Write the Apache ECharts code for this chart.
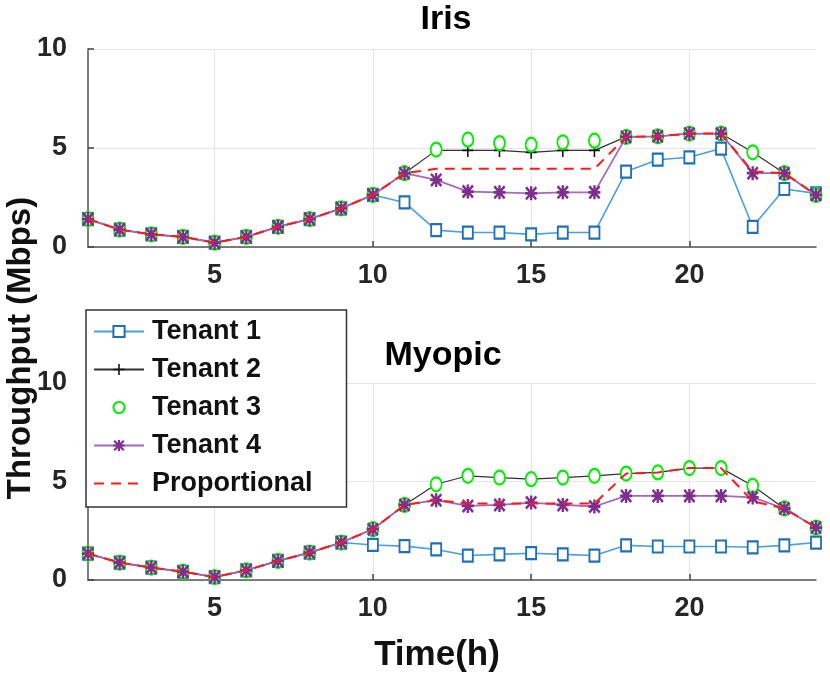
<!DOCTYPE html>
<html>
<head>
<meta charset="utf-8">
<script src="https://cdn.jsdelivr.net/npm/echarts@6/dist/echarts.min.js"></script>
<style>
html,body{margin:0;padding:0;background:#fff;}
#chart{width:830px;height:679px;}
</style>
</head>
<body>
<div id="chart"></div>
<script>
// ---- data ----
const hours = [1,2,3,4,5,6,7,8,9,10,11,12,13,14,15,16,17,18,19,20,21,22,23,24];
const xTicks = [5,10,15,20];
const yTicks = [0,5,10];
const seriesNames = ['Tenant 1','Tenant 2','Tenant 3','Tenant 4','Proportional'];
const panelTitles = ['Iris','Myopic'];

const irisT1   = [1.41,0.88,0.64,0.51,0.22,0.51,1.02,1.41,1.95,2.63,2.25,0.85,0.73,0.73,0.64,0.73,0.73,3.81,4.41,4.53,4.97,1.02,2.93,2.71];
const irisT2   = [1.41,0.88,0.64,0.51,0.22,0.51,1.02,1.41,1.95,2.63,3.73,4.88,4.88,4.88,4.78,4.88,4.88,5.56,5.59,5.73,5.73,4.78,3.73,2.63];
const irisT3   = [1.41,0.88,0.64,0.51,0.22,0.51,1.02,1.41,1.95,2.63,3.73,4.92,5.42,5.25,5.17,5.29,5.37,5.56,5.59,5.73,5.73,4.78,3.73,2.63];
const irisT4   = [1.41,0.88,0.64,0.51,0.22,0.51,1.02,1.41,1.95,2.63,3.73,3.39,2.80,2.76,2.71,2.76,2.76,5.56,5.59,5.73,5.73,3.73,3.73,2.63];
const irisProp = [1.41,0.88,0.64,0.51,0.22,0.51,1.02,1.41,1.95,2.63,3.73,3.95,3.95,3.95,3.95,3.95,3.95,5.56,5.59,5.73,5.73,3.81,3.73,2.63];

const myoT1   = [1.34,0.88,0.63,0.42,0.15,0.49,0.97,1.39,1.90,1.78,1.72,1.55,1.24,1.30,1.36,1.30,1.24,1.76,1.70,1.70,1.70,1.66,1.76,1.90];
const myoT2   = [1.34,0.88,0.63,0.42,0.15,0.49,0.97,1.39,1.90,2.58,3.81,4.86,5.29,5.20,5.12,5.20,5.29,5.40,5.46,5.68,5.68,4.78,3.63,2.66];
const myoT3   = [1.34,0.88,0.63,0.42,0.15,0.49,0.97,1.39,1.90,2.58,3.81,4.86,5.29,5.20,5.12,5.20,5.29,5.40,5.46,5.68,5.68,4.78,3.63,2.66];
const myoT4   = [1.34,0.88,0.63,0.42,0.15,0.49,0.97,1.39,1.90,2.58,3.81,4.05,3.76,3.81,3.93,3.81,3.73,4.27,4.27,4.27,4.27,4.19,3.63,2.66];
const myoProp = [1.34,0.88,0.63,0.42,0.15,0.49,0.97,1.39,1.90,2.58,3.81,4.05,3.88,3.88,3.88,3.88,3.88,5.40,5.46,5.68,5.68,4.00,3.63,2.66];

// ---- styles ----
const FONT = '"Liberation Sans", Arial, Helvetica, sans-serif';
const PLUS = 'path://M4.3,0H5.7V10H4.3Z M0,4.3H10V5.7H0Z';
const STAR = 'path://M4,0H6V10H4Z M0,4H10V6H0Z M1.4,0L10,8.6L8.6,10L0,1.4Z M8.6,0L10,1.4L1.4,10L0,8.6Z';

function pairs(vals){ return hours.map((h,i)=>[h, vals[i]]); }

function panelSeries(idx, t1, t2, t3, t4, prop){
  return [
    { name: seriesNames[0], type:'line', xAxisIndex:idx, yAxisIndex:idx, data:pairs(t1),
      symbol:'emptyRect', symbolSize:[10,12], showAllSymbol:true,
      lineStyle:{color:'#4a9fdc', width:1.6},
      itemStyle:{color:'#1f70b8', borderWidth:1.6}, z:2, animation:false },
    { name: seriesNames[1], type:'line', xAxisIndex:idx, yAxisIndex:idx, data:pairs(t2),
      symbol:PLUS, symbolSize:[11,13], showAllSymbol:true,
      lineStyle:{color:'#333333', width:1.2},
      itemStyle:{color:'#111111', borderWidth:0}, z:3, animation:false },
    { name: seriesNames[2], type:'line', xAxisIndex:idx, yAxisIndex:idx, data:pairs(t3),
      symbol:'emptyCircle', symbolSize:[11,14], showAllSymbol:true,
      lineStyle:{width:0, opacity:0},
      itemStyle:{color:'#00ee00', borderWidth:1.8}, z:4, animation:false },
    { name: seriesNames[3], type:'line', xAxisIndex:idx, yAxisIndex:idx, data:pairs(t4),
      symbol:STAR, symbolSize:[12,14], showAllSymbol:true,
      lineStyle:{color:'#a06bbf', width:1.8},
      itemStyle:{color:'#7e2f8e', borderWidth:0}, z:5, animation:false },
    { name: seriesNames[4], type:'line', xAxisIndex:idx, yAxisIndex:idx, data:pairs(prop),
      symbol:'none',
      lineStyle:{color:'#ff1a1a', width:2, type:[10,7]},
      itemStyle:{color:'#ff1a1a'}, z:6, animation:false }
  ];
}

function xAxisDef(idx){
  return {
    type:'value', gridIndex:idx, min:1, max:24,
    axisLine:{show:true, onZero:false, lineStyle:{color:'#555', width:1.5}},
    axisTick:{show:true, inside:true, length:6, customValues:xTicks, lineStyle:{color:'#444', width:1.5}},
    axisLabel:{customValues:xTicks, margin:15, color:'#262626', fontSize:27, fontWeight:'bold', fontFamily:FONT},
    splitLine:{show:true, lineStyle:{color:'#e6e6e6', width:1.2}}
  };
}
function yAxisDef(idx){
  return {
    type:'value', gridIndex:idx, min:0, max:10, interval:5,
    axisLine:{show:true, lineStyle:{color:'#555', width:1.5}},
    axisTick:{show:true, inside:true, length:6, lineStyle:{color:'#444', width:1.5}},
    axisLabel:{margin:21, color:'#262626', fontSize:27, fontWeight:'bold', fontFamily:FONT,
      formatter:(v)=> yTicks.indexOf(v) >= 0 ? String(v) : ''},
    splitLine:{show:true, lineStyle:{color:'#e6e6e6', width:1.2}}
  };
}

const legendData = seriesNames.map((n, i) => i === 4
  ? {name:n, itemStyle:{color:'rgba(0,0,0,0)', borderWidth:0, opacity:0}}
  : {name:n});

const chart = echarts.init(document.getElementById('chart'), null, {renderer:'canvas'});
chart.setOption({
  backgroundColor:'#ffffff',
  animation:false,
  title:[
    {text:panelTitles[0], left:446, textAlign:'center', top:3, padding:0,
     textStyle:{fontSize:34, fontWeight:'bold', color:'#000', fontFamily:FONT}},
    {text:panelTitles[1], left:443, textAlign:'center', top:339, padding:0,
     textStyle:{fontSize:34, fontWeight:'bold', color:'#000', fontFamily:FONT}}
  ],
  grid:[
    {left:88, right:14, top:49, height:198, containLabel:false},
    {left:88, right:14, top:383, height:197, containLabel:false}
  ],
  xAxis:[xAxisDef(0), xAxisDef(1)],
  yAxis:[yAxisDef(0), yAxisDef(1)],
  legend:{
    orient:'vertical', left:86, top:310,
    data:legendData,
    itemWidth:50, itemHeight:14, itemGap:11,
    padding:[8,34,10,7],
    backgroundColor:'#ffffff', borderColor:'#333', borderWidth:1.5, borderRadius:0,
    textStyle:{fontSize:27, fontWeight:'bold', color:'#111', fontFamily:FONT, padding:[0,0,0,3]},
    selectedMode:false, z:20
  },
  graphic:[
    {type:'text', x:21, y:348, rotation:Math.PI/2, z:100,
     style:{text:'Throughput (Mbps)', align:'center', verticalAlign:'middle',
            font:'bold 33px ' + FONT, fill:'#111'}},
    {type:'text', x:437, y:655, z:100,
     style:{text:'Time(h)', align:'center', verticalAlign:'middle',
            font:'bold 35px ' + FONT, fill:'#111'}}
  ],
  series:[].concat(
    panelSeries(0, irisT1, irisT2, irisT3, irisT4, irisProp),
    panelSeries(1, myoT1, myoT2, myoT3, myoT4, myoProp)
  )
});
</script>
</body>
</html>
